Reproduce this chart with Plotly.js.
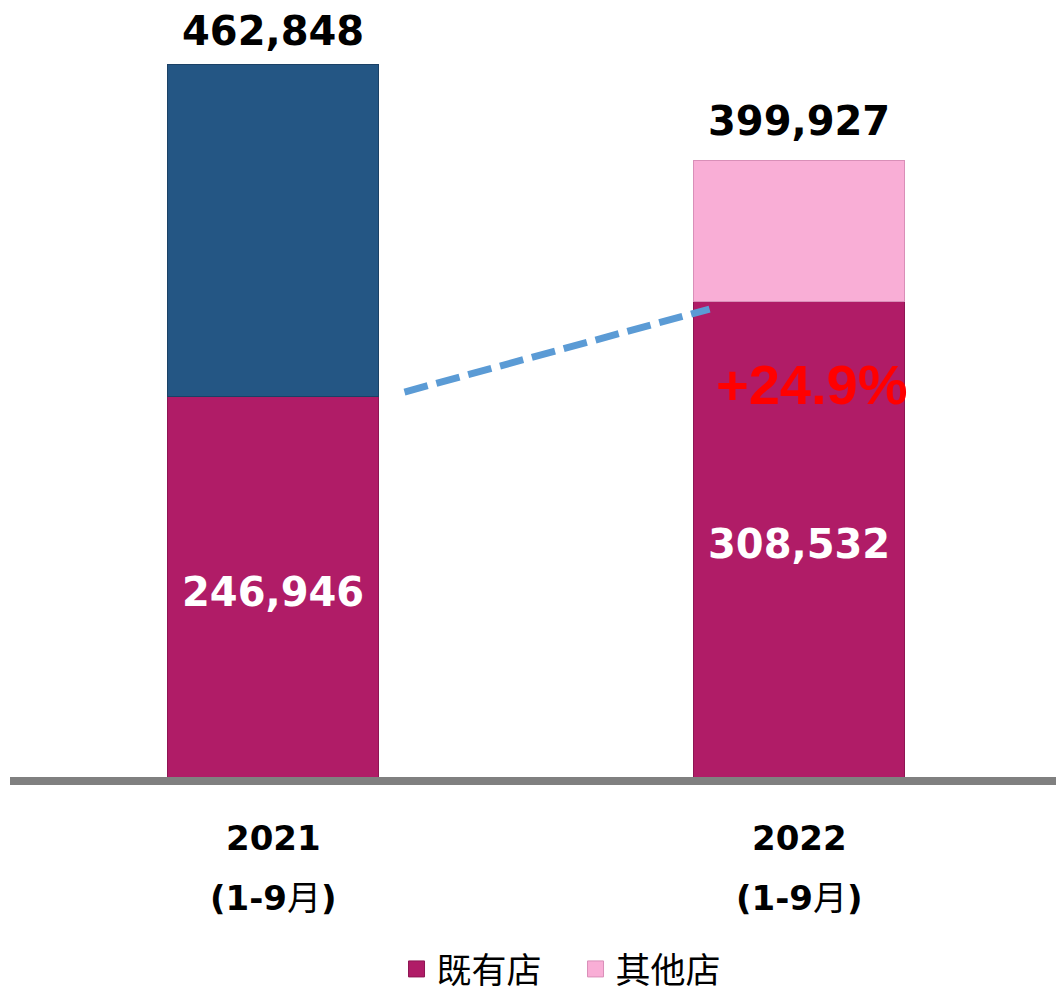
<!DOCTYPE html>
<html>
<head>
<meta charset="utf-8">
<script src="https://cdn.plot.ly/plotly-3.0.1.min.js"></script>
<style>
  html, body { margin: 0; padding: 0; background: #ffffff; }
  #chart { width: 1056px; height: 992px; }
</style>
</head>
<body>
<div id="chart"></div>
<script>
// chart values
const years = ["2021", "2022"];
const totals = [462848, 399927];
const existingStores = [246946, 308532];
const seriesNames = ["既有店", "其他店"];
const growthLabel = "+24.9%";
// dashed growth line (x in category units, y in values)
const growthLineX = [0.25, 0.83];
const growthLineY = [249900, 303800];
const growthLabelPos = [1.025, 254500];

const xs = years.map((_, i) => i);
const others = totals.map((t, i) => t - existingStores[i]);
const fmt = (v) => v.toLocaleString("en-US");

const MAGENTA = "#B01C67";
const NAVY = "#245684";
const PINK = "#F9AED6";

const numFont = "DejaVu Sans, Liberation Sans, Noto Sans CJK SC, sans-serif";

const traces = [
  {
    type: "bar",
    name: seriesNames[0],
    x: xs,
    y: existingStores,
    width: 0.4,
    showlegend: false,
    marker: { color: MAGENTA, line: { color: "#8E1553", width: 1 } },
    hoverinfo: "skip",
  },
  {
    // 2021 remainder, drawn dark blue and kept out of the legend
    type: "bar",
    name: "2021 other",
    x: [xs[0]],
    y: [others[0]],
    width: 0.4,
    showlegend: false,
    marker: { color: NAVY, line: { color: "#1B4166", width: 1 } },
    hoverinfo: "skip",
  },
  {
    type: "bar",
    name: seriesNames[1],
    x: [xs[1]],
    y: [others[1]],
    width: 0.4,
    showlegend: false,
    marker: { color: PINK, line: { color: "#D98FB8", width: 1 } },
    hoverinfo: "skip",
  },
  {
    type: "scatter",
    mode: "lines",
    x: growthLineX,
    y: growthLineY,
    showlegend: false,
    line: { color: "#5B9BD5", width: 7, dash: "24px,9px" },
    hoverinfo: "skip",
  },
];

// legend entries with bigger square swatches than bar legends give
[MAGENTA, PINK].forEach((c, i) => {
  traces.push({
    type: "scatter",
    mode: "markers",
    name: seriesNames[i],
    x: [null],
    y: [null],
    marker: { symbol: "square", size: 18, color: c, line: { color: i ? "#D98FB8" : "#8E1553", width: 1 } },
    hoverinfo: "skip",
  });
});

const annotations = [];
// totals above the bars
totals.forEach((t, i) => {
  annotations.push({
    x: xs[i], y: t, xref: "x", yref: "y",
    text: "<b>" + fmt(t) + "</b>",
    showarrow: false, yanchor: "middle",
    yshift: [33, 40][i],
    font: { family: numFont, size: 40, color: "#000000" },
  });
});
// existing-store values inside the bars
existingStores.forEach((v, i) => {
  annotations.push({
    x: xs[i], y: v / 2, xref: "x", yref: "y",
    text: "<b>" + fmt(v) + "</b>",
    showarrow: false, yanchor: "middle", yshift: -5,
    font: { family: numFont, size: 40, color: "#ffffff" },
  });
});
// category labels under the axis
years.forEach((yr, i) => {
  annotations.push({
    x: xs[i], y: 0, xref: "x", yref: "paper",
    text: "<b>" + yr + "</b>",
    showarrow: false, yanchor: "middle", yshift: -61,
    font: { family: numFont, size: 34, color: "#000000" },
  });
  annotations.push({
    x: xs[i], y: 0, xref: "x", yref: "paper",
    text: "<b>(1-9</b>月<b>)</b>",
    showarrow: false, yanchor: "middle", yshift: -121,
    font: { family: numFont, size: 34, color: "#000000" },
  });
});
annotations.push({
  x: growthLabelPos[0], y: growthLabelPos[1], xref: "x", yref: "y",
  text: "<b>" + growthLabel + "</b>",
  showarrow: false, yanchor: "middle", xanchor: "center",
  font: { family: "Liberation Sans, Arial, sans-serif", size: 56, color: "#FF0000" },
});

const layout = {
  width: 1056,
  height: 992,
  margin: { l: 10, r: 0, t: 0, b: 215 },
  paper_bgcolor: "#ffffff",
  plot_bgcolor: "#ffffff",
  barmode: "stack",
  showlegend: true,
  legend: {
    orientation: "h",
    x: 0.545, xanchor: "center",
    xref: "container",
    y: 0.023, yanchor: "middle",
    yref: "container",
    traceorder: "normal",
    font: { family: "Noto Sans CJK SC, sans-serif", size: 35, color: "#000000" },
    itemwidth: 30,
    entrywidth: 134,
    entrywidthmode: "pixels",
  },
  xaxis: {
    range: [-0.5, 1.4886],
    showgrid: false,
    zeroline: false,
    showline: true,
    linecolor: "#808080",
    linewidth: 8,
    showticklabels: false,
    ticks: "",
    fixedrange: true,
  },
  yaxis: {
    range: [0, 504400],
    visible: false,
    fixedrange: true,
  },
  annotations: annotations,
};

Plotly.newPlot("chart", traces, layout, { displayModeBar: false, staticPlot: true });
</script>
</body>
</html>
